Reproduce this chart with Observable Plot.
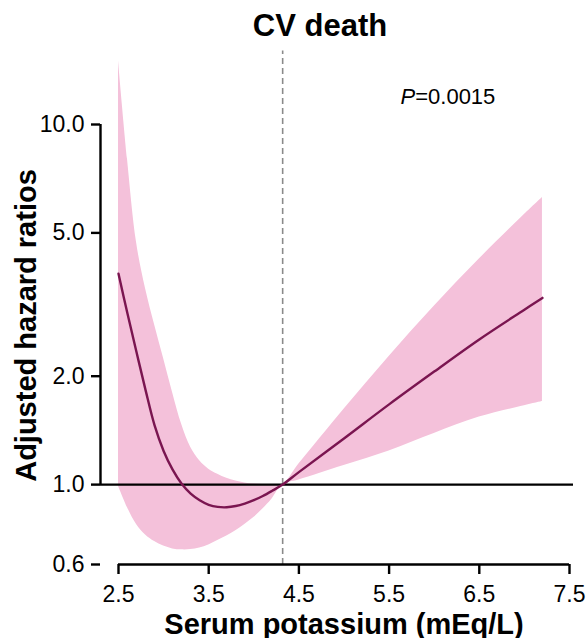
<!DOCTYPE html>
<html>
<head>
<meta charset="utf-8">
<script src="https://cdn.jsdelivr.net/npm/d3@7"></script>
<script src="https://cdn.jsdelivr.net/npm/@observablehq/plot@0.6"></script>
<style>
  html, body { margin: 0; padding: 0; background: #fff; }
  #chart svg { display: block; }
</style>
</head>
<body>
<div id="chart"></div>
<script>
// ---- data ----
const potassium = [2.5, 2.6, 2.7, 2.8, 2.9, 3.0, 3.1, 3.2, 3.3, 3.4, 3.5, 3.6, 3.7, 3.8, 3.9, 4.0, 4.1, 4.2, 4.32, 4.5, 5.0, 5.5, 6.0, 6.5, 7.0, 7.2];
const hazardRatio = [3.85, 2.98, 2.33, 1.83, 1.46, 1.24, 1.10, 1.005, 0.944, 0.905, 0.879, 0.867, 0.865, 0.872, 0.886, 0.905, 0.93, 0.96, 1.0, 1.083, 1.343, 1.67, 2.06, 2.53, 3.06, 3.30];
const upperCI = [15.0, 8.0, 4.7, 3.5, 2.78, 2.24, 1.80, 1.47, 1.27, 1.165, 1.104, 1.068, 1.041, 1.024, 1.011, 1.004, 1.001, 1.0, 1.0, 1.14, 1.62, 2.27, 3.13, 4.23, 5.62, 6.27];
const lowerCI = [0.99, 0.863, 0.775, 0.725, 0.695, 0.675, 0.663, 0.659, 0.66, 0.667, 0.68, 0.70, 0.72, 0.745, 0.775, 0.81, 0.855, 0.91, 1.0, 1.03, 1.13, 1.24, 1.387, 1.54, 1.656, 1.70];

const referenceK = 4.32;
const referenceHR = 1.0;
const referenceLineTop = 16;

const xTicks = [2.5, 3.5, 4.5, 5.5, 6.5, 7.5];
const yTicks = [0.6, 1.0, 2.0, 5.0, 10.0];

const titleText = "CV death";
const xLabel = "Serum potassium (mEq/L)";
const yLabel = "Adjusted hazard ratios";
const pLetter = "P";
const pValue = "=0.0015";

// ---- table for the library ----
const rows = potassium.map((k, i) => ({k, hr: hazardRatio[i], lo: lowerCI[i], hi: upperCI[i]}));

const pink = "#F4C1DA";
const maroon = "#7A1550";
const font = "'Liberation Sans', Arial, Helvetica, sans-serif";

const chart = Plot.plot({
  width: 587,
  height: 638,
  marginTop: 124,
  marginBottom: 74,
  marginLeft: 100,
  marginRight: 14,
  style: {fontFamily: font, background: "#fff", color: "#000", overflow: "visible"},
  x: {domain: [xTicks[0], xTicks[xTicks.length - 1]], insetLeft: 18, insetRight: 4},
  y: {type: "log", domain: [yTicks[0], yTicks[yTicks.length - 1]]},
  marks: [
    Plot.areaY(rows, {x: "k", y1: "lo", y2: "hi", fill: pink, curve: "catmull-rom"}),
    Plot.ruleX([referenceK], {y1: yTicks[0], y2: referenceLineTop, stroke: "#8a8a8a", strokeWidth: 1.6, strokeDasharray: "6,4"}),
    Plot.ruleY([referenceHR], {stroke: "#000", strokeWidth: 2.4}),
    Plot.lineY(rows, {x: "k", y: "hr", stroke: maroon, strokeWidth: 2.4, curve: "catmull-rom"}),
    // axis lines
    Plot.ruleX([xTicks[0]], {y1: referenceHR, y2: yTicks[yTicks.length - 1], dx: -18, stroke: "#000", strokeWidth: 2.4}),
    Plot.ruleY([yTicks[0]], {x1: xTicks[0], x2: xTicks[xTicks.length - 1], stroke: "#000", strokeWidth: 2.4}),
    Plot.axisY({ticks: yTicks, tickFormat: d3.format(".1f"), tickSize: 9, tickPadding: 7, fontSize: 23, strokeWidth: 2.4, label: null}),
    Plot.axisX({ticks: xTicks, tickFormat: d3.format(".1f"), tickSize: 10, tickPadding: 11, fontSize: 23, strokeWidth: 2.4, label: null}),
    // texts
    Plot.text([titleText], {frameAnchor: "top", dx: -17, dy: -89, textAnchor: "middle", lineAnchor: "bottom", fontSize: 31, fontWeight: "bold"}),
    Plot.text([pLetter], {frameAnchor: "top-left", dx: 300, dy: -21, textAnchor: "start", lineAnchor: "bottom", fontSize: 22, fontStyle: "italic"}),
    Plot.text([pValue], {frameAnchor: "top-left", dx: 314.7, dy: -21, textAnchor: "start", lineAnchor: "bottom", fontSize: 22}),
    Plot.text([yLabel], {frameAnchor: "left", rotate: -90, dx: -74, dy: -19, textAnchor: "middle", lineAnchor: "middle", fontSize: 29, fontWeight: "bold"}),
    Plot.text([xLabel], {frameAnchor: "bottom", dx: 7, dy: 69, textAnchor: "middle", lineAnchor: "bottom", fontSize: 29, fontWeight: "bold"})
  ]
});

document.getElementById("chart").appendChild(chart);
</script>
</body>
</html>
